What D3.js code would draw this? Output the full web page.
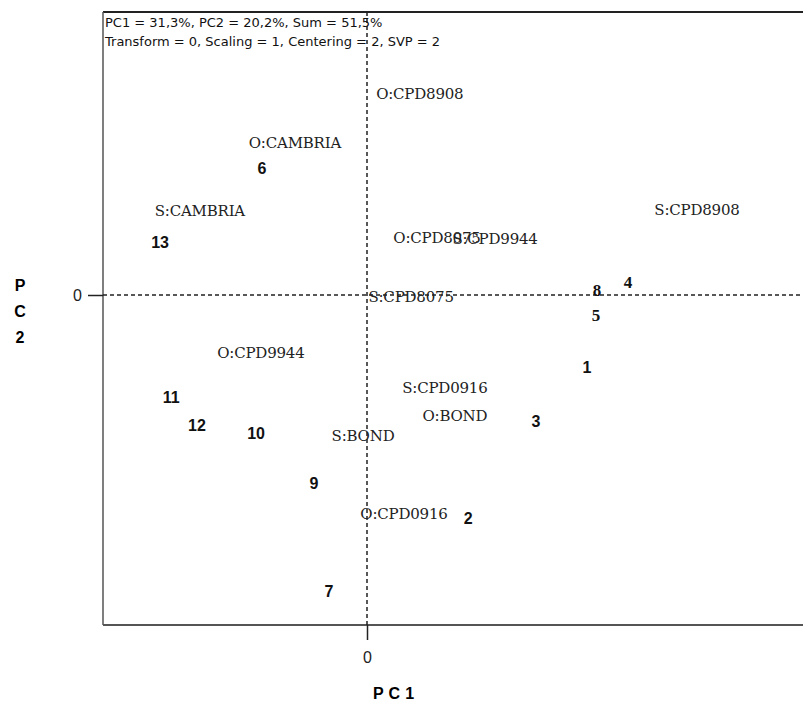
<!DOCTYPE html>
<html>
<head>
<meta charset="utf-8">
<script src="https://cdn.jsdelivr.net/npm/d3@7"></script>
<style>
  body { margin: 0; background: #fff; }
</style>
</head>
<body>
<div class="start"></div>
<script>
// header lines
var header = ["PC1 = 31,3%, PC2 = 20,2%, Sum = 51,5%",
              "Transform = 0, Scaling = 1, Centering = 2, SVP = 2"];

// variable labels (serif)
var varNames = ["O:CPD8908", "O:CAMBRIA", "S:CAMBRIA", "O:CPD8075", "S:CPD9944",
                "S:CPD8908", "S:CPD8075", "O:CPD9944", "S:CPD0916", "O:BOND",
                "S:BOND", "O:CPD0916"];
var varPC1 = [0.20, -0.273, -0.633, 0.265, 0.485, 1.25, 0.167, -0.402, 0.295, 0.333, -0.015, 0.140];
var varPC2 = [0.609, 0.461, 0.255, 0.173, 0.170, 0.258, -0.006, -0.176, -0.282, -0.367, -0.427, -0.664];

// sample numbers (bold)
var objNames = ["1", "2", "3", "4", "5", "6", "7", "8", "9", "10", "11", "12", "13"];
var objPC1 = [0.833, 0.383, 0.640, 0.989, 0.867, -0.398, -0.144, 0.871, -0.201, -0.420, -0.742, -0.644, -0.784];
var objPC2 = [-0.221, -0.676, -0.382, 0.039, -0.061, 0.382, -0.897, 0.015, -0.570, -0.421, -0.312, -0.394, 0.158];
var serifNums = ["4", "5", "8"];

var W = 803, H = 704;
var L = 103, T = 12, B = 625;

var x = d3.scaleLinear().domain([-1, 1.652]).range([L, L + 264 * 2.652]);
var y = d3.scaleLinear().domain([-1, 0.858]).range([B, B - 330 * 1.858]);

var svg = d3.select('.start').append('svg')
  .attr('width', W).attr('height', H);

// frame: left, top, bottom
svg.append('line').attr('x1', L).attr('x2', W).attr('y1', T).attr('y2', T)
  .attr('stroke', '#222').attr('stroke-width', 2);
svg.append('line').attr('x1', L).attr('x2', L).attr('y1', T).attr('y2', B)
  .attr('stroke', '#555').attr('stroke-width', 1.5);
svg.append('line').attr('x1', L).attr('x2', W).attr('y1', B).attr('y2', B)
  .attr('stroke', '#555').attr('stroke-width', 2);

// zero lines, dashed
svg.append('line').attr('x1', x(0)).attr('x2', x(0)).attr('y1', T).attr('y2', B)
  .attr('stroke', '#222').attr('stroke-width', 1.5).attr('stroke-dasharray', '4,3');
svg.append('line').attr('x1', L).attr('x2', W).attr('y1', y(0)).attr('y2', y(0))
  .attr('stroke', '#222').attr('stroke-width', 1.5).attr('stroke-dasharray', '4,3');

// axes with a single 0 tick
var yAxis = d3.axisLeft(y).tickValues([0]).tickSize(15).tickPadding(6).tickFormat(d3.format('d'));
var xAxis = d3.axisBottom(x).tickValues([0]).tickSize(15).tickPadding(12).tickFormat(d3.format('d'));
var ga = svg.append('g').attr('transform', 'translate(' + L + ',0)').call(yAxis);
var gb = svg.append('g').attr('transform', 'translate(0,' + B + ')').call(xAxis);
[ga, gb].forEach(function(g) {
  g.select('.domain').remove();
  g.selectAll('line').attr('stroke', '#222').attr('stroke-width', 1.5);
  g.selectAll('text').attr('fill', '#222')
    .style('font-family', 'Liberation Sans Narrow, Liberation Sans, Arial, sans-serif')
    .style('font-size', '16px');
});

// header
svg.selectAll('.hdr').data(header).enter().append('text')
  .attr('x', L + 2).attr('y', function(d, i) { return 27 + i * 19; })
  .style('font-family', 'DejaVu Sans, sans-serif')
  .style('font-size', '13px').attr('fill', '#111')
  .text(function(d) { return d; });

// axis titles
var yt = svg.append('text').attr('x', 20).attr('y', 291)
  .style('font-family', 'Liberation Sans, Arial, sans-serif')
  .style('font-size', '16px').style('font-weight', 'bold').attr('text-anchor', 'middle');
['P', 'C', '2'].forEach(function(c, i) {
  yt.append('tspan').attr('x', 20).attr('dy', i === 0 ? 0 : 26).text(c);
});
svg.append('text').attr('x', 396).attr('y', 699).attr('text-anchor', 'middle')
  .style('font-family', 'Liberation Sans, Arial, sans-serif')
  .style('font-size', '16px').style('font-weight', 'bold')
  .style('letter-spacing', '5px').text('PC1');

// variable labels
svg.selectAll('.var').data(varNames).enter().append('text')
  .attr('x', function(d, i) { return x(varPC1[i]); })
  .attr('y', function(d, i) { return y(varPC2[i]); })
  .attr('text-anchor', 'middle').attr('dominant-baseline', 'central')
  .style('font-family', 'DejaVu Serif, serif').style('font-size', '15px')
  .style('letter-spacing', '-0.2px').attr('fill', '#222')
  .text(function(d) { return d; });

// sample numbers
svg.selectAll('.obj').data(objNames).enter().append('text')
  .attr('x', function(d, i) { return x(objPC1[i]); })
  .attr('y', function(d, i) { return y(objPC2[i]); })
  .attr('text-anchor', 'middle').attr('dominant-baseline', 'central')
  .style('font-family', function(d) {
    return serifNums.indexOf(d) >= 0 ? 'Liberation Serif, serif' : 'Liberation Sans, Arial, sans-serif';
  })
  .style('font-size', function(d) { return serifNums.indexOf(d) >= 0 ? '17px' : '16px'; })
  .style('font-weight', 'bold').attr('fill', '#111')
  .text(function(d) { return d; });
</script>
</body>
</html>
